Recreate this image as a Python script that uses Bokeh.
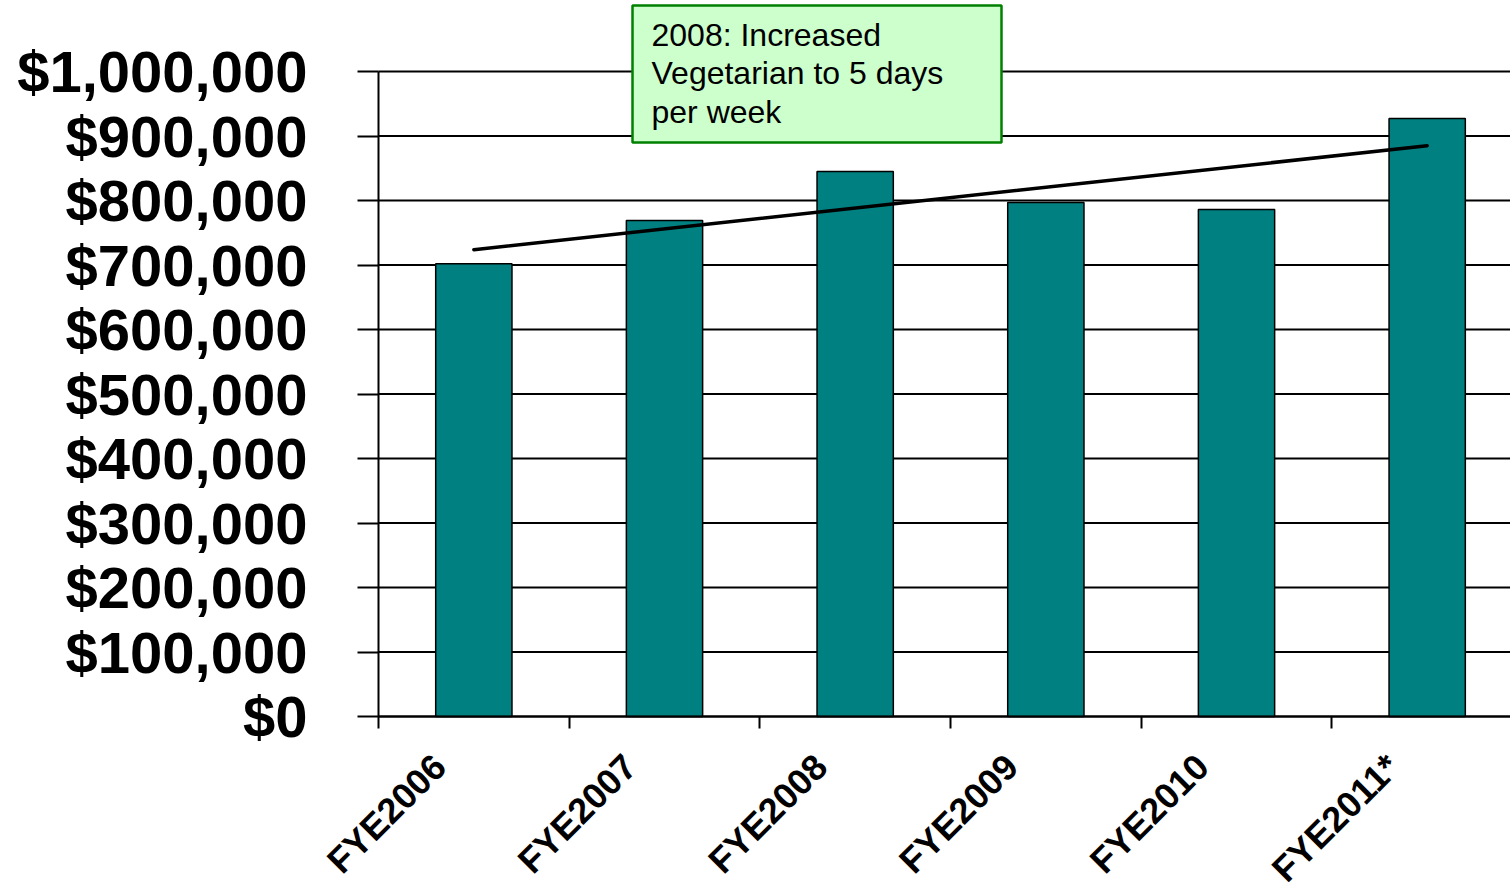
import math
import numpy as np
from bokeh.plotting import figure
from bokeh.models import Range1d, FixedTicker, NumeralTickFormatter, ColumnDataSource
from bokeh.core.properties import value
from bokeh.embed import file_html
from bokeh.resources import INLINE

# ---- data ----
categories = ["FYE2006", "FYE2007", "FYE2008", "FYE2009", "FYE2010", "FYE2011*"]
costs = [702000, 769000, 845000, 797000, 786000, 927000]
y_ticks = [0, 100000, 200000, 300000, 400000, 500000, 600000, 700000, 800000, 900000, 1000000]
note_text = "2008: Increased\nVegetarian to 5 days\nper week"

FONT = "Liberation Sans"
W, H = 1510, 890
PX_PER_CAT = 190.67
AXIS_X_PX = 378          # canvas x of category 0 / y-axis line
ZERO_Y_PX = 716          # canvas y of zero line
PX_PER_UNIT_Y = 645 / 1_000_000

def xdata(px):
    return (px - AXIS_X_PX) / PX_PER_CAT

def ydata(py):
    return (ZERO_Y_PX - py) / PX_PER_UNIT_Y

n = len(categories)
centers = [i + 0.5 for i in range(n)]
boundaries = list(range(n + 1))
label_pos = [c - 0.18 for c in centers]

p = figure(width=W, height=H, output_backend="svg", toolbar_location=None,
           x_range=Range1d(xdata(0), xdata(W)),
           y_range=Range1d(ydata(H), ydata(0)),
           min_border_left=0, min_border_right=0, min_border_top=0, min_border_bottom=0)
p.outline_line_color = None
p.background_fill_color = "white"
p.border_fill_color = "white"
p.xgrid.visible = False
p.ygrid.visible = False

# y axis, pinned at the first category boundary
ya = p.yaxis[0]
ya.fixed_location = 0
ya.bounds = (0, y_ticks[-1])
ya.ticker = FixedTicker(ticks=y_ticks)
ya.formatter = NumeralTickFormatter(format="$0,0")
ya.axis_line_color = "black"
ya.axis_line_width = 2
ya.major_tick_out = 21
ya.major_tick_in = 0
ya.major_tick_line_width = 2
ya.major_tick_line_color = "black"
ya.minor_tick_line_color = None
ya.major_label_standoff = 50
ya.major_label_text_font = FONT
ya.major_label_text_font_style = "bold"
ya.major_label_text_font_size = "58px"
ya.major_label_text_color = "black"

# x axis, pinned at y = 0
xa = p.xaxis[0]
xa.fixed_location = 0
xa.bounds = (0, xdata(W))
xa.ticker = FixedTicker(ticks=label_pos, minor_ticks=boundaries)
xa.major_label_overrides = {c: name for c, name in zip(label_pos, categories)}
xa.axis_line_width = 2
xa.axis_line_color = "black"
xa.major_tick_out = 0
xa.major_tick_in = 0
xa.minor_tick_out = 12
xa.minor_tick_in = 0
xa.minor_tick_line_width = 2
xa.minor_tick_line_color = "black"
xa.major_label_orientation = math.pi / 4
xa.major_label_standoff = 32
xa.major_label_text_font = FONT
xa.major_label_text_font_style = "bold"
xa.major_label_text_font_size = "36px"
xa.major_label_text_color = "black"

# horizontal gridlines across the plot area
p.segment(x0=[0] * len(y_ticks), y0=y_ticks, x1=[xdata(W)] * len(y_ticks), y1=y_ticks,
          line_color="black", line_width=2)

# bars
src = ColumnDataSource(dict(x=centers, top=costs))
p.vbar(x="x", top="top", width=0.4, bottom=0, source=src,
       fill_color="#008080", line_color="black", line_width=1.5)

# linear trendline (least squares fit of the bars)
xs = np.arange(n)
slope, intercept = np.polyfit(xs, costs, 1)
tx = [centers[0], centers[-1]]
ty = [intercept, intercept + slope * (n - 1)]
p.line(tx, ty, line_color="black", line_width=3.5, line_cap="round")

# annotation box
p.quad(left=[xdata(632)], right=[xdata(1001)], top=[ydata(5)], bottom=[ydata(142)],
       fill_color="#CCFFCC", line_color="#008000", line_width=2.5)
p.text(x=[xdata(651)], y=[ydata(16)], text=[note_text], text_font=value(FONT),
       text_font_size="32px", text_color="black", text_align="left",
       text_baseline="top", text_line_height=1.08)

open("out.html", "w").write(file_html(p, INLINE))
